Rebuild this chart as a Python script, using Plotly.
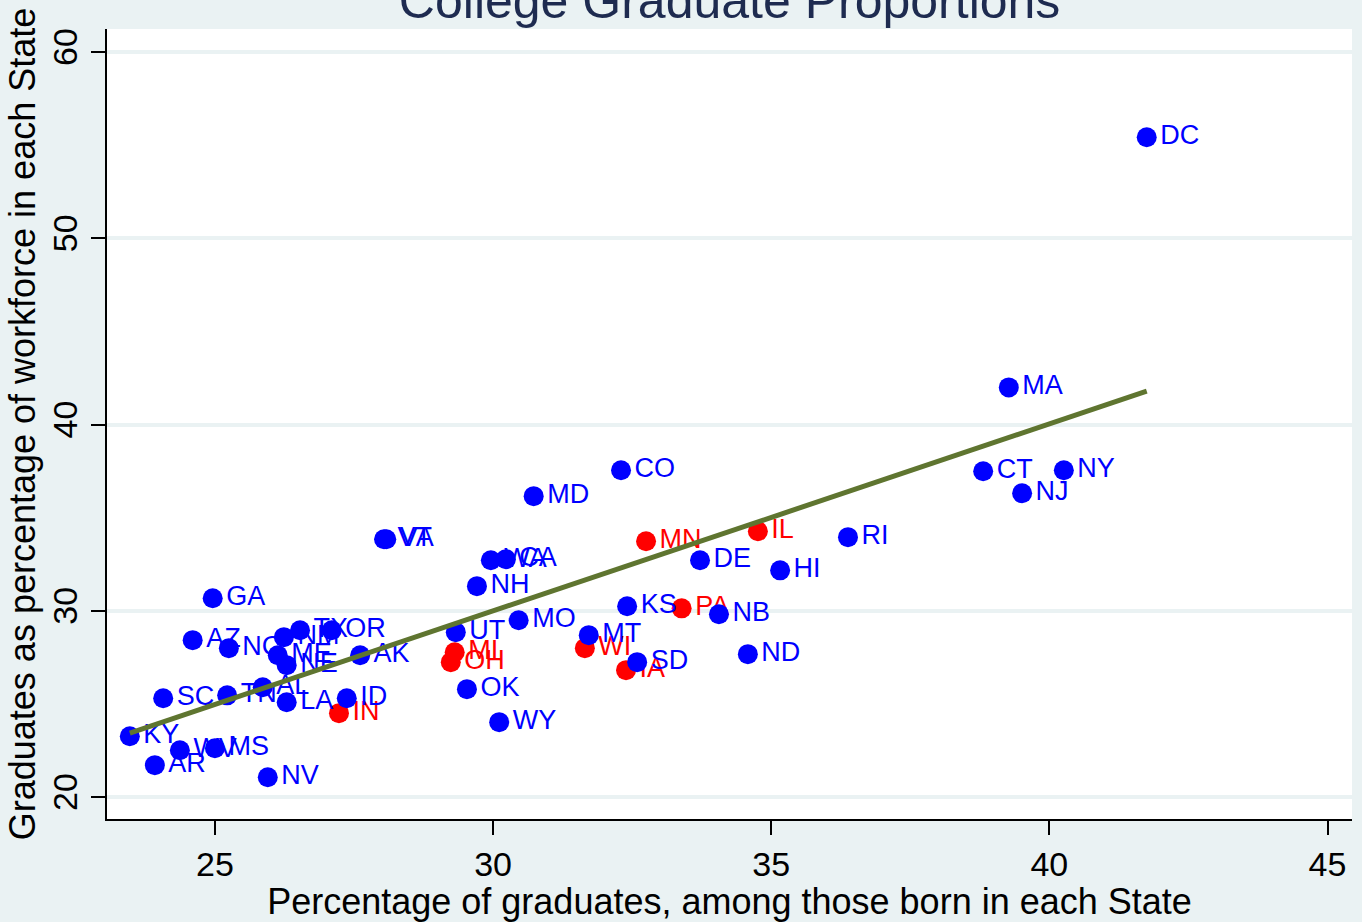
import plotly.graph_objects as go
import numpy as np

# state codes, % graduates among those born in state (x), % graduates in workforce (y)
states = ["DC", "MA", "CT", "NY", "NJ", "RI", "HI", "IL", "ND", "NB",
          "DE", "MN", "PA", "CO", "KS", "SD", "IA", "MT", "WI", "MD",
          "MO", "WY", "WA", "CA", "NH", "OK", "UT", "MI", "OH", "VT",
          "VA", "IN", "ID", "AK", "TX", "OR", "NM", "ME", "NE", "GA",
          "AZ", "NC", "SC", "TN", "AL", "LA", "KY", "WV", "MS", "AR", "NV"]
born_pct = [41.75, 39.27, 38.81, 40.26, 39.51, 36.38, 35.16, 34.76, 34.58, 34.06,
            33.72, 32.75, 33.39, 32.30, 32.41, 32.59, 32.39, 31.72, 31.65, 30.73,
            30.46, 30.11, 29.96, 30.23, 29.71, 29.53, 29.33, 29.31, 29.24, 28.04,
            28.08, 27.23, 27.37, 27.61, 26.53, 27.10, 26.24, 26.13, 26.29, 24.96,
            24.60, 25.25, 24.07, 25.22, 25.86, 26.29, 23.47, 24.37, 25.00, 23.92, 25.95]
workforce_pct = [55.43, 42.00, 37.50, 37.55, 36.32, 33.96, 32.18, 34.28, 27.68, 29.82,
                 32.72, 33.74, 30.14, 37.55, 30.25, 27.25, 26.82, 28.70, 28.00, 36.16,
                 29.50, 24.03, 32.72, 32.78, 31.33, 25.80, 28.86, 27.78, 27.25, 33.85,
                 33.85, 24.51, 25.31, 27.62, 28.96, 28.96, 28.59, 27.62, 27.09, 30.68,
                 28.43, 28.00, 25.31, 25.47, 25.90, 25.10, 23.27, 22.52, 22.63, 21.72, 21.07]
highlighted = ["IL", "MN", "PA", "IA", "WI", "MI", "OH", "IN"]

# fitted line (intercept, slope)
fit_intercept = -0.12
fit_slope = 1.004

x_ticks = [25, 30, 35, 40, 45]
y_ticks = [20, 30, 40, 50, 60]

bg = "#EAF2F3"
font_family = "Liberation Sans, Arial, sans-serif"

def subset(flag):
    idx = [i for i, s in enumerate(states) if (s in highlighted) == flag]
    return ([born_pct[i] for i in idx], [workforce_pct[i] for i in idx],
            [states[i] for i in idx])

fig = go.Figure()

for flag, colour in [(True, "#FF0000"), (False, "#0000FF")]:
    xs, ys, labels = subset(flag)
    fig.add_trace(go.Scatter(
        x=xs, y=ys, text=labels,
        mode="markers+text",
        textposition="middle right",
        marker=dict(size=20, color=colour),
        textfont=dict(size=27, color=colour, family=font_family),
        showlegend=False,
        hoverinfo="text+x+y"
    ))

# linear fit over the range of the data
fit_x = np.array([min(born_pct), max(born_pct)])
fig.add_trace(go.Scatter(
    x=fit_x, y=fit_intercept + fit_slope * fit_x,
    mode="lines",
    line=dict(color="#5F7530", width=5),
    showlegend=False,
    hoverinfo="skip"
))

fig.update_layout(
    width=1362, height=922,
    paper_bgcolor=bg,
    plot_bgcolor="white",
    margin=dict(l=107, r=10, t=29, b=103),
    font=dict(family=font_family, color="black"),
    title=dict(text="College Graduate Proportions",
               x=0.5357, xanchor="center",
               y=1.0, yref="container", yanchor="middle",
               font=dict(size=50, color="#1E2B50")),
    xaxis=dict(
        range=[23.06, 45.44],
        tickvals=x_ticks,
        ticks="outside", ticklen=14, tickwidth=2, tickcolor="black",
        tickfont=dict(size=34),
        showline=True, linecolor="black", linewidth=2,
        showgrid=False, zeroline=False,
        automargin=False,
        title=dict(text="Percentage of graduates, among those born in each State",
                   font=dict(size=36), standoff=0),
    ),
    yaxis=dict(
        range=[18.83, 61.24],
        tickvals=y_ticks,
        tickangle=-90,
        ticks="outside", ticklen=14, tickwidth=2, tickcolor="black",
        tickfont=dict(size=34),
        showline=True, linecolor="black", linewidth=2,
        showgrid=True, gridcolor=bg, gridwidth=4,
        zeroline=False,
        automargin=False,
        title=dict(text="Graduates as percentage of workforce in each State",
                   font=dict(size=36), standoff=0),
    ),
)

# drop the page's default body margin so the figure fills the window
fig.write_html("out.html",
               config={"displayModeBar": False},
               post_script="document.body.style.margin='0';"
                           "document.body.style.background='%s';" % bg)
